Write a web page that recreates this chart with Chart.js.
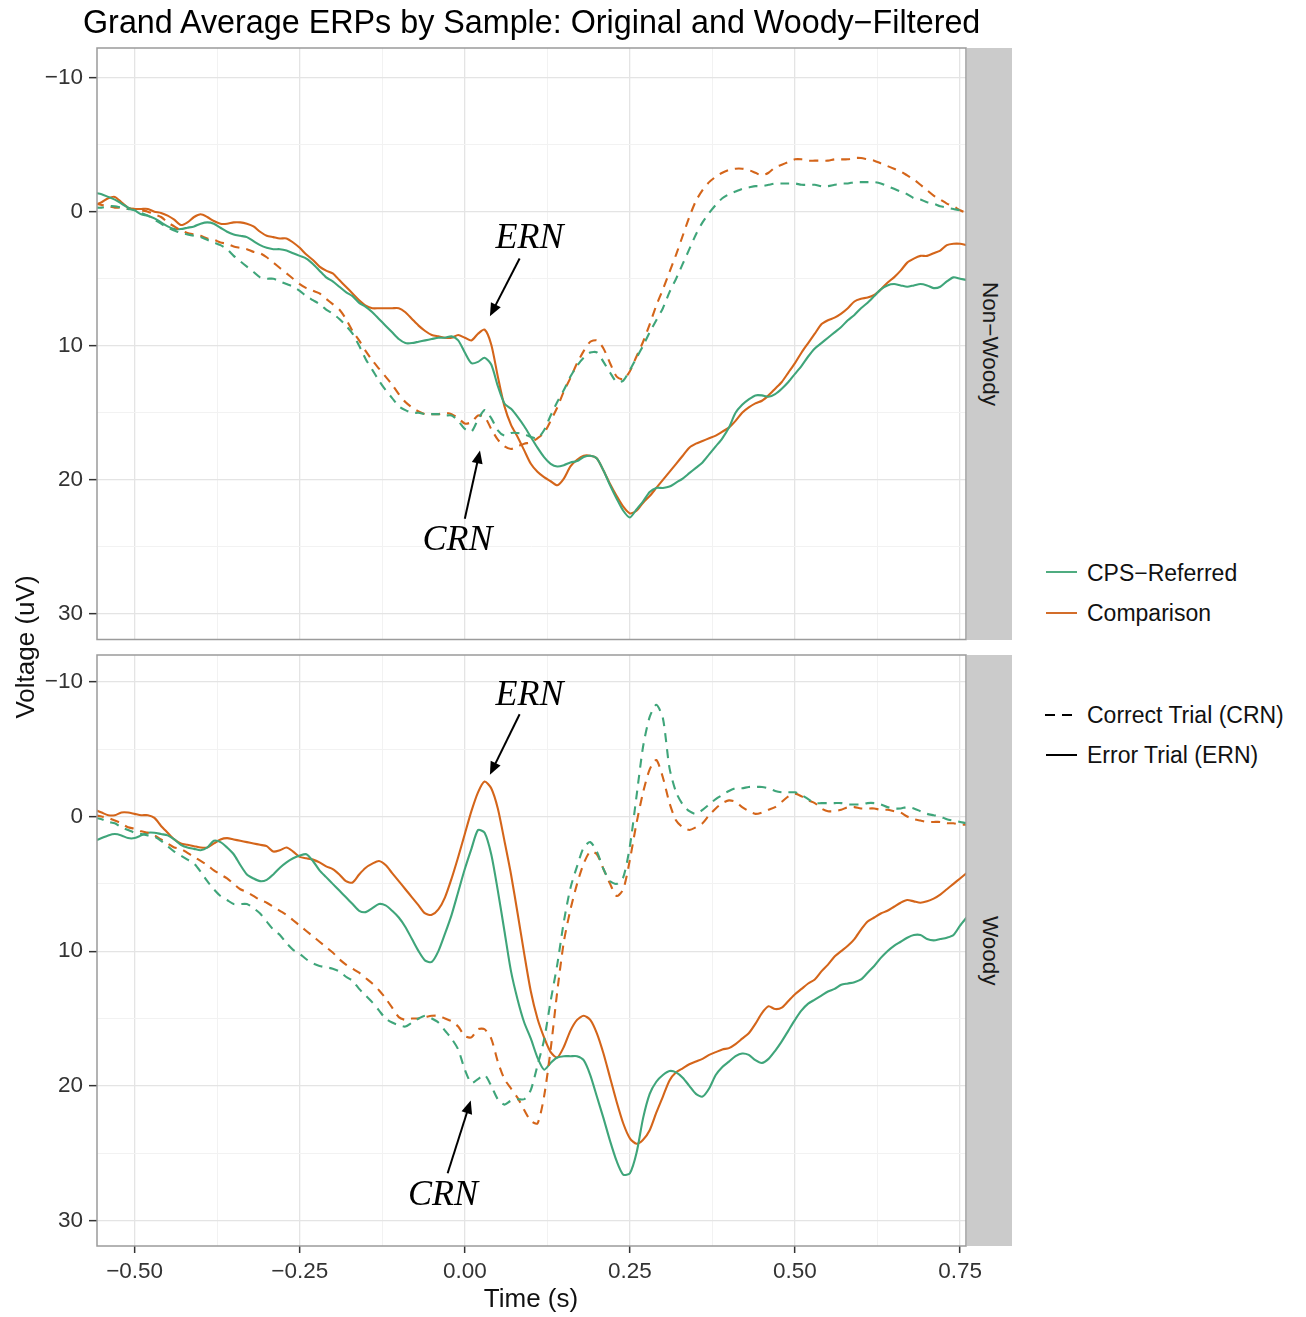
<!DOCTYPE html>
<html><head><meta charset="utf-8">
<script src="https://cdn.jsdelivr.net/npm/chart.js@4.4.0/dist/chart.umd.min.js"></script>
<style>
body{margin:0;background:#fff;}
#wrap{position:relative;width:1306px;height:1317px;overflow:hidden;font-family:'Liberation Sans',Arial,Helvetica,sans-serif;background:#fff;}
canvas{position:absolute;}
.t{position:absolute;white-space:nowrap;color:#111;}
.strip{position:absolute;background:#cbcbcb;display:flex;align-items:center;justify-content:center;}
.strip span{writing-mode:vertical-rl;font-size:22.5px;color:#1a1a1a;}
.note{position:absolute;font-family:'Liberation Serif','Times New Roman',serif;font-style:italic;font-size:36px;color:#000;transform:translate(-50%,-50%);white-space:nowrap;}
.lg{position:absolute;height:0;}
</style></head><body><div id="wrap">
<canvas id="c1" width="1012" height="659" style="left:0;top:0"></canvas>
<canvas id="c2" width="1012" height="687" style="left:0;top:630px"></canvas>
<div class="t" style="left:83px;top:4px;font-size:32.3px;line-height:36px;color:#000">Grand Average ERPs by Sample: Original and Woody−Filtered</div>
<div class="strip" style="left:967px;top:48px;width:45px;height:592px"><span id="s1"></span></div>
<div class="strip" style="left:967px;top:655px;width:45px;height:591px"><span id="s2"></span></div>
<div class="t" style="left:0;top:634px;width:50px;height:26px;"><div style="position:absolute;left:25px;top:13px;transform:translate(-50%,-50%) rotate(-90deg);font-size:26px;">Voltage (uV)</div></div>
<div class="t" style="left:531px;top:1298px;transform:translate(-50%,-50%);font-size:26px;">Time (s)</div>
<div class="lg" style="left:1046px;top:571px;width:31px;border-top:2px solid #4fac80"></div>
<div class="lg" style="left:1046px;top:612px;width:31px;border-top:2px solid #d36d2a"></div>
<div class="lg" style="left:1045px;top:714px;width:10px;border-top:2px solid #000"></div>
<div class="lg" style="left:1062px;top:714px;width:10px;border-top:2px solid #000"></div>
<div class="lg" style="left:1046px;top:754px;width:31px;border-top:2px solid #000"></div>
<div class="t" id="lg0" style="left:1087px;top:560px;font-size:23px;line-height:26px"></div>
<div class="t" id="lg1" style="left:1087px;top:600px;font-size:23px;line-height:26px"></div>
<div class="t" id="lg2" style="left:1087px;top:702px;font-size:23px;line-height:26px"></div>
<div class="t" id="lg3" style="left:1087px;top:742px;font-size:23px;line-height:26px"></div>
<div class="note" id="n1">ERN</div>
<div class="note" id="n2">CRN</div>
<div class="note" id="n3">ERN</div>
<div class="note" id="n4">CRN</div>
</div>
<script>
// ---- data ----
const times = Array.from({length: 133}, (_, i) => Math.round((-0.56 + i * 0.01) * 100) / 100);
const xTickValues = [-0.5, -0.25, 0, 0.25, 0.5, 0.75];
const yTickValues = [-10, 0, 10, 20, 30];
const groupNames = ['CPS−Referred', 'Comparison'];
const trialNames = ['Correct Trial (CRN)', 'Error Trial (ERN)'];
const panelNames = ['Non−Woody', 'Woody'];

// Non-Woody panel
const nwCpsError = [-1.4,-1.3,-1.1,-0.9,-0.6,-0.3,-0.1,0.2,0.3,0.5,
0.8,1.1,1.3,1.3,1.2,1.1,0.9,0.8,0.9,1.2,
1.5,1.7,1.8,1.9,2.2,2.5,2.7,2.8,2.8,2.9,
3.1,3.3,3.5,3.9,4.4,4.9,5.2,5.6,6.0,6.3,
6.8,7.1,7.5,8.0,8.5,9.0,9.5,9.8,9.8,9.7,
9.6,9.5,9.4,9.4,9.3,9.6,10.5,11.3,11.2,10.9,
11.4,13.0,14.3,14.7,15.3,16.0,16.8,17.6,18.3,18.8,
19.0,18.9,18.7,18.6,18.3,18.2,18.4,19.3,20.4,21.4,
22.3,22.8,22.2,21.6,20.9,20.6,20.6,20.5,20.2,19.9,
19.5,19.1,18.7,18.1,17.5,16.9,16.1,15.0,14.4,14.0,
13.7,13.7,13.8,13.6,13.2,12.7,12.1,11.5,10.8,10.2,
9.8,9.4,9.0,8.6,8.1,7.7,7.2,6.8,6.3,5.8,
5.5,5.4,5.5,5.6,5.5,5.4,5.5,5.7,5.6,5.2,
4.9,5.0,5.1];
const nwCompError = [-0.5,-0.7,-1.0,-1.1,-0.7,-0.3,-0.2,-0.2,-0.2,0.0,
0.1,0.3,0.6,1.0,0.8,0.4,0.2,0.4,0.7,0.9,
0.9,0.8,0.8,0.9,1.1,1.5,1.8,1.9,2.0,2.0,
2.3,2.7,3.2,3.6,4.1,4.4,4.6,5.1,5.6,6.1,
6.6,7.0,7.2,7.2,7.2,7.2,7.2,7.5,8.0,8.5,
8.9,9.2,9.3,9.4,9.4,9.2,9.4,9.6,9.1,8.8,
9.9,12.3,14.5,15.9,16.8,17.8,18.8,19.4,19.8,20.1,
20.4,19.9,19.0,18.5,18.2,18.2,18.4,19.3,20.3,21.2,
22.0,22.5,22.3,21.7,21.2,20.6,20.0,19.4,18.8,18.2,
17.6,17.3,17.1,16.9,16.7,16.4,16.1,15.6,15.0,14.6,
14.3,14.1,13.7,13.2,12.7,12.0,11.3,10.5,9.8,9.1,
8.4,8.1,7.9,7.6,7.2,6.7,6.5,6.4,6.2,5.8,
5.3,4.9,4.4,3.8,3.5,3.3,3.3,3.1,2.9,2.5,
2.4,2.4,2.5];
const nwCpsCorrect = [-0.3,-0.3,-0.4,-0.4,-0.3,-0.2,-0.1,0.1,0.3,0.6,
0.9,1.2,1.4,1.6,1.7,1.8,1.9,2.1,2.3,2.5,
2.8,3.3,3.7,4.1,4.5,4.9,5.0,5.0,5.2,5.4,
5.6,5.9,6.3,6.6,6.9,7.3,7.6,8.0,8.5,9.1,
10.0,11.0,11.8,12.6,13.3,13.9,14.5,14.8,15.0,15.0,
15.1,15.1,15.1,15.2,15.2,15.6,16.2,16.4,15.5,14.8,
15.4,16.3,16.7,16.5,16.5,16.6,16.8,16.9,16.3,15.2,
14.2,13.3,12.3,11.5,10.9,10.5,10.5,11.2,12.0,12.7,
12.6,11.8,10.9,10.0,9.0,8.1,7.2,6.0,5.0,3.9,
2.8,1.7,0.8,0.1,-0.5,-1.0,-1.3,-1.5,-1.7,-1.8,
-1.9,-1.9,-2.0,-2.1,-2.1,-2.1,-2.1,-2.0,-2.0,-2.0,
-1.9,-1.9,-2.0,-2.1,-2.1,-2.2,-2.2,-2.2,-2.2,-2.1,
-1.9,-1.7,-1.5,-1.3,-1.0,-0.9,-0.7,-0.6,-0.4,-0.3,
-0.2,-0.1,-0.1];
const nwCompCorrect = [-0.6,-0.5,-0.4,-0.3,-0.3,-0.2,-0.2,-0.1,0.0,0.2,
0.4,0.8,1.1,1.4,1.6,1.7,1.8,2.0,2.1,2.3,
2.4,2.6,2.7,2.8,3.0,3.1,3.4,3.8,4.2,4.6,
5.0,5.4,5.7,5.9,6.1,6.5,6.9,7.3,8.0,8.9,
9.6,10.4,11.1,11.7,12.3,12.9,13.6,14.2,14.6,14.9,
15.1,15.1,15.1,15.0,15.1,15.4,15.8,15.7,15.2,15.3,
16.2,17.0,17.5,17.7,17.5,17.3,17.2,16.9,16.5,15.6,
14.6,13.4,12.4,11.3,10.4,9.7,9.6,10.2,11.3,12.3,
12.5,11.9,10.8,9.7,8.4,7.0,5.8,4.5,3.2,1.8,
0.4,-0.8,-1.6,-2.2,-2.6,-2.9,-3.1,-3.2,-3.2,-3.1,
-2.9,-2.7,-2.9,-3.3,-3.5,-3.7,-3.9,-3.9,-3.8,-3.8,
-3.8,-3.8,-3.9,-3.9,-3.9,-4.0,-4.0,-3.9,-3.8,-3.6,
-3.4,-3.2,-3.0,-2.7,-2.4,-2.0,-1.6,-1.2,-0.9,-0.6,
-0.4,-0.1,0.1];

// Woody panel
const wCpsError = [1.8,1.6,1.4,1.3,1.4,1.6,1.6,1.4,1.2,1.2,
1.3,1.4,1.7,2.1,2.3,2.4,2.5,2.3,1.8,1.9,
2.3,2.8,3.6,4.3,4.6,4.8,4.7,4.3,3.8,3.4,
3.1,2.9,2.8,3.3,4.0,4.5,5.0,5.5,6.0,6.5,
7.0,7.1,6.8,6.5,6.6,7.0,7.5,8.2,9.1,10.0,
10.7,10.8,10.0,8.7,7.3,5.6,3.9,2.4,1.0,1.2,
2.8,5.5,8.5,11.5,13.6,15.3,16.5,17.9,18.8,18.3,
17.9,17.8,17.8,17.8,18.1,19.2,20.8,22.4,24.1,25.6,
26.6,26.5,25.0,22.4,20.6,19.7,19.2,18.9,19.0,19.4,
20.0,20.6,20.8,20.2,19.2,18.6,18.2,17.8,17.6,17.7,
18.1,18.3,18.0,17.4,16.7,15.9,15.1,14.4,13.9,13.6,
13.3,13.0,12.8,12.5,12.4,12.3,12.1,11.6,11.1,10.5,
10.0,9.6,9.3,9.0,8.8,8.8,9.1,9.2,9.1,9.0,
8.8,8.1,7.5];
const wCompError = [-0.5,-0.3,-0.1,-0.1,-0.3,-0.3,-0.2,-0.1,-0.1,0.1,
0.7,1.2,1.7,2.0,2.1,2.2,2.3,2.3,2.0,1.7,
1.6,1.7,1.8,1.9,2.0,2.1,2.2,2.6,2.5,2.3,
2.6,3.0,3.1,3.2,3.4,3.7,3.9,4.3,4.8,4.9,
4.3,3.8,3.5,3.3,3.6,4.2,4.8,5.4,6.0,6.6,
7.2,7.3,6.9,6.0,4.6,3.0,1.3,-0.4,-1.8,-2.6,
-2.1,-0.6,1.8,4.3,7.2,10.2,13.0,15.0,16.4,17.5,
17.9,17.1,15.9,15.1,14.8,15.1,16.1,17.6,19.4,21.2,
22.8,23.9,24.3,24.0,23.3,22.0,20.8,19.6,19.0,18.7,
18.4,18.2,18.0,17.7,17.5,17.3,17.2,16.9,16.5,16.1,
15.4,14.6,14.1,14.3,14.2,13.7,13.2,12.8,12.4,12.1,
11.5,11.0,10.4,10.0,9.6,9.1,8.4,7.8,7.5,7.2,
7.0,6.7,6.4,6.2,6.3,6.4,6.3,6.1,5.8,5.4,
5.0,4.6,4.2];
const wCpsCorrect = [0.1,0.2,0.4,0.5,0.8,1.0,1.2,1.3,1.4,1.5,
1.8,2.2,2.6,2.9,3.2,3.5,4.1,4.8,5.4,5.9,
6.2,6.5,6.5,6.5,6.8,7.2,7.8,8.4,8.8,9.4,
9.9,10.2,10.6,10.9,11.1,11.2,11.3,11.5,11.9,12.2,
12.8,13.3,13.8,14.4,15.0,15.3,15.5,15.6,15.3,15.0,
14.8,15.0,15.3,15.9,16.5,17.3,18.8,19.8,19.5,19.2,
20.0,21.0,21.4,21.1,21.0,21.0,20.3,18.5,16.6,13.7,
11.0,7.8,5.3,3.7,2.3,1.9,2.6,3.9,4.8,5.0,
4.5,2.2,-1.5,-5.2,-7.4,-8.3,-7.3,-3.6,-1.8,-0.9,
-0.4,-0.2,-0.5,-0.9,-1.3,-1.6,-1.9,-2.1,-2.1,-2.2,
-2.2,-2.2,-2.1,-1.9,-1.8,-1.8,-1.8,-1.6,-1.3,-1.0,
-1.0,-1.0,-1.0,-1.0,-0.9,-0.9,-0.9,-1.0,-1.0,-0.9,
-0.7,-0.6,-0.6,-0.7,-0.6,-0.4,-0.2,-0.1,0.0,0.2,
0.3,0.4,0.5];
const wCompCorrect = [-0.1,0.0,0.1,0.3,0.5,0.8,0.9,1.1,1.2,1.4,
1.7,2.0,2.3,2.4,2.7,3.0,3.3,3.6,4.0,4.3,
4.6,5.0,5.4,5.6,5.9,6.2,6.4,6.7,7.0,7.3,
7.7,8.1,8.5,8.9,9.3,9.7,10.1,10.6,11.0,11.3,
11.6,12.0,12.4,12.9,13.5,14.2,14.9,15.1,15.0,15.0,
14.9,14.8,14.8,15.0,15.2,15.6,16.3,16.4,15.8,15.8,
16.5,18.2,19.5,20.2,20.9,21.8,22.6,22.8,20.8,17.3,
13.0,9.3,6.9,5.0,3.5,2.6,2.8,3.9,5.0,5.9,
5.4,3.2,0.5,-1.8,-3.5,-4.2,-2.9,-1.0,0.3,0.8,
1.0,0.8,0.5,-0.1,-0.6,-1.0,-1.2,-1.1,-0.7,-0.4,
-0.2,-0.3,-0.5,-0.7,-1.1,-1.5,-1.7,-1.5,-1.2,-1.0,
-0.6,-0.4,-0.4,-0.5,-0.7,-0.7,-0.6,-0.6,-0.6,-0.5,
-0.5,-0.4,-0.3,0.0,0.2,0.3,0.4,0.4,0.4,0.5,
0.5,0.6,0.6];

// ---- styling / helpers ----
const GREEN = '#3fa57a', ORANGE = '#d4651a';
const FONT = "'Liberation Sans', Arial, Helvetica, sans-serif";
document.getElementById('s1').textContent = panelNames[0];
document.getElementById('s2').textContent = panelNames[1];
['lg0','lg1','lg2','lg3'].forEach((id,i)=>{document.getElementById(id).textContent=[groupNames[0],groupNames[1],trialNames[0],trialNames[1]][i];});

function withMinors(m){const o=[];for(let i=0;i<m.length;i++){o.push(m[i]);if(i<m.length-1)o.push((m[i]+m[i+1])/2);}return o;}
const xGridAll = withMinors(xTickValues);
const yGridAll = withMinors(yTickValues);
const isMajor=(v,m)=>m.some(a=>Math.abs(a-v)<1e-9);
const fmtX=v=>(v<0?'−':'')+Math.abs(v).toFixed(2);
const fmtY=v=>(v<0?'−':'')+Math.abs(v);
function pts(arr){return times.map((t,i)=>({x:t,y:arr[i]}));}
function ds(label,arr,color,dashed){return {label,data:pts(arr),borderColor:color,borderWidth:2.1,borderDash:dashed?[9,7]:[],pointRadius:0,tension:0.25,fill:false};}

const panelPlugin={id:'panelBorder',afterDatasetsDraw(chart){const {ctx,chartArea:a}=chart;ctx.save();ctx.strokeStyle='#9b9b9b';ctx.lineWidth=1.5;ctx.strokeRect(a.left,a.top,a.right-a.left,a.bottom-a.top);ctx.restore();}};
const notePlugin={id:'erpNotes',afterDraw(chart,args,opts){
  const xs=chart.scales.x,ys=chart.scales.y,ctx=chart.ctx;
  (opts.items||[]).forEach(n=>{
    const x0=xs.getPixelForValue(n.from[0]),y0=ys.getPixelForValue(n.from[1]);
    const x1=xs.getPixelForValue(n.to[0]),y1=ys.getPixelForValue(n.to[1]);
    const ang=Math.atan2(y1-y0,x1-x0),L=13,W=5.5,c=Math.cos(ang),s=Math.sin(ang);
    ctx.save();ctx.strokeStyle='#000';ctx.fillStyle='#000';ctx.lineWidth=2;
    ctx.beginPath();ctx.moveTo(x0,y0);ctx.lineTo(x1-c*L*0.7,y1-s*L*0.7);ctx.stroke();
    ctx.beginPath();ctx.moveTo(x1,y1);ctx.lineTo(x1-L*c+W*s,y1-L*s-W*c);ctx.lineTo(x1-L*c-W*s,y1-L*s+W*c);ctx.closePath();ctx.fill();
    ctx.restore();
    const el=document.getElementById(n.id);
    el.style.left=(chart.canvas.offsetLeft+xs.getPixelForValue(n.text[0]))+'px';
    el.style.top=(chart.canvas.offsetTop+ys.getPixelForValue(n.text[1]))+'px';
  });
}};

function makeChart(id,sets,opt){
  return new Chart(document.getElementById(id),{
    type:'line',
    data:{datasets:sets},
    options:{
      responsive:false,animation:false,devicePixelRatio:1,
      layout:{padding:{left:0,right:46,top:opt.padTop,bottom:opt.padBottom}},
      plugins:{legend:{display:false},tooltip:{enabled:false},erpNotes:{items:opt.notes}},
      scales:{
        x:{type:'linear',min:-0.557,max:0.759,
          afterBuildTicks:s=>{s.ticks=xGridAll.map(v=>({value:v}));},
          afterFit:s=>{s.height=opt.xH;},
          border:{display:false},
          grid:{color:c=>isMajor(c.tick.value,xTickValues)?'#e4e4e4':'#f2f2f2',lineWidth:c=>isMajor(c.tick.value,xTickValues)?1.3:1,
            drawTicks:opt.showX,tickLength:7,tickWidth:1.5,tickColor:c=>isMajor(c.tick.value,xTickValues)?'#333':'rgba(0,0,0,0)'},
          ticks:{display:opt.showX,autoSkip:false,maxRotation:0,padding:5,color:'#333',font:{family:FONT,size:22.5},
            callback:v=>isMajor(v,xTickValues)?fmtX(v):''}
        },
        y:{type:'linear',reverse:true,min:opt.yMin,max:31.9,
          afterBuildTicks:s=>{s.ticks=yGridAll.map(v=>({value:v}));},
          afterFit:s=>{s.width=97;},
          border:{display:false},
          grid:{color:c=>isMajor(c.tick.value,yTickValues)?'#e4e4e4':'#f2f2f2',lineWidth:c=>isMajor(c.tick.value,yTickValues)?1.3:1,
            drawTicks:true,tickLength:8,tickWidth:1.5,tickColor:c=>isMajor(c.tick.value,yTickValues)?'#333':'rgba(0,0,0,0)'},
          ticks:{autoSkip:false,padding:6,color:'#333',font:{family:FONT,size:22.5},
            callback:v=>isMajor(v,yTickValues)?fmtY(v):''}
        }
      }
    },
    plugins:[panelPlugin,notePlugin]
  });
}

makeChart('c1',[
  ds(groupNames[0]+' '+trialNames[0],nwCpsCorrect,GREEN,true),
  ds(groupNames[1]+' '+trialNames[0],nwCompCorrect,ORANGE,true),
  ds(groupNames[0]+' '+trialNames[1],nwCpsError,GREEN,false),
  ds(groupNames[1]+' '+trialNames[1],nwCompError,ORANGE,false)
],{padTop:48,padBottom:14,xH:5,showX:false,yMin:-12.2,
  notes:[{id:'n1',text:[0.098,1.8],from:[0.083,3.5],to:[0.038,7.8]},
         {id:'n2',text:[-0.011,24.3],from:[0.0,22.9],to:[0.023,17.8]}]});

makeChart('c2',[
  ds(groupNames[0]+' '+trialNames[0],wCpsCorrect,GREEN,true),
  ds(groupNames[1]+' '+trialNames[0],wCompCorrect,ORANGE,true),
  ds(groupNames[0]+' '+trialNames[1],wCpsError,GREEN,false),
  ds(groupNames[1]+' '+trialNames[1],wCompError,ORANGE,false)
],{padTop:25,padBottom:0,xH:71,showX:true,yMin:-12.0,
  notes:[{id:'n3',text:[0.098,-9.2],from:[0.083,-7.6],to:[0.038,-3.1]},
         {id:'n4',text:[-0.033,28.0],from:[-0.026,26.5],to:[0.009,21.1]}]});
</script>
</body></html>
